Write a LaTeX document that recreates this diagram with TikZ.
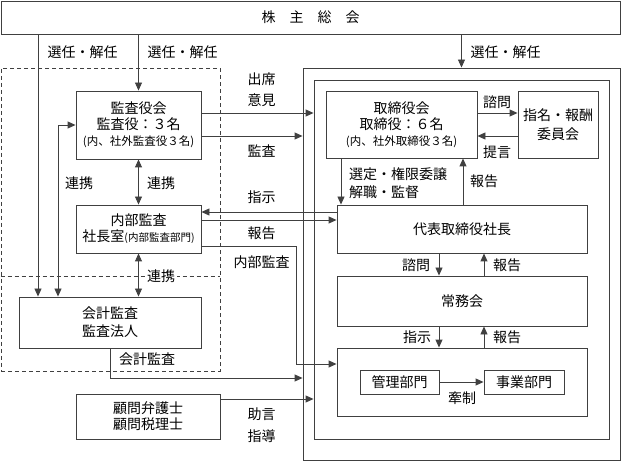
\documentclass[tikz,border=0pt]{standalone}
\usepackage{fontspec}
\setmainfont{Noto Sans CJK JP}
\usetikzlibrary{arrows.meta,calc}
\begin{document}
\begin{tikzpicture}[x=1pt,y=-1pt,
  ln/.style={draw=black!75, line width=0.9pt},
  box/.style={ln, rectangle, inner sep=0pt, align=center, font=\fontsize{14}{16}\selectfont},
  dbox/.style={draw=black!75, line width=0.9pt, dash pattern=on 4pt off 3pt, rectangle, inner sep=0pt},
  arr/.style={draw=black!75, line width=0.9pt, -{Triangle[length=8pt,width=7pt]}},
  darr/.style={draw=black!75, line width=0.9pt, {Triangle[length=8pt,width=7pt]}-{Triangle[length=8pt,width=7pt]}},
  lbl/.style={inner sep=0pt, align=center, font=\fontsize{14}{16}\selectfont},
  small/.style={}
]
\useasboundingbox (0,0) rectangle (621,462);
% helper coordinates
\coordinate (v38) at (38,0);
\coordinate (v58) at (58,0);
\coordinate (v110) at (110,0);
\coordinate (v341) at (341,0);
\coordinate (v463) at (463,0);
\coordinate (v439) at (439,0);
\coordinate (v484) at (484,0);
\coordinate (h113) at (0,113);
\coordinate (h136) at (0,136);
\coordinate (h212) at (0,212);
\coordinate (h220) at (0,220);
\coordinate (h246) at (0,246);
\coordinate (h276) at (0,276);
\coordinate (h364) at (0,364);
\coordinate (h378) at (0,378);
\coordinate (h399) at (0,399);
\coordinate (k1) at (296,364);

% boxes
\node[box, minimum width=619, minimum height=33] (soukai) at (310.5,17.5) {株　主　総　会};
\node[box, minimum width=317, minimum height=392] (outer) at (461.5,264) {};
\node[box, minimum width=295, minimum height=359] (inner) at (461.5,259.5) {};
\node[dbox, minimum width=219, minimum height=303] (dash) at (110.5,219.5) {};
\node[box, minimum width=125, minimum height=68] (kansa) at (138.5,125)
  {監査役会\\監査役：３名\\{\fontsize{11.5}{13}\selectfont (内、社外監査役３名)}};
\node[box, minimum width=125, minimum height=48] (naibu) at (138.5,229)
  {内部監査\\社長室{\fontsize{10.5}{12}\selectfont (内部監査部門)}};
\node[box, minimum width=182, minimum height=51] (kaikei) at (110,322.5)
  {会計監査\\[2pt]監査法人};
\node[box, minimum width=144, minimum height=45] (komon) at (148,416.5)
  {顧問弁護士\\顧問税理士};
\node[box, minimum width=151, minimum height=67] (tori) at (401.5,124.5)
  {取締役会\\取締役：６名\\{\fontsize{11.5}{13}\selectfont (内、社外取締役３名)}};
\node[box, minimum width=80, minimum height=67] (shimei) at (558,124.5)
  {指名・報酬\\[3pt]委員会};
\node[box, minimum width=250, minimum height=48] (daihyo) at (462,229) {代表取締役社長};
\node[box, minimum width=250, minimum height=50] (jomu) at (462,301) {常務会};
\node[box, minimum width=250, minimum height=68] (bumon) at (462,382) {};
\node[box, minimum width=79, minimum height=24] (kanri) at (399.5,382) {管理部門};
\node[box, minimum width=80, minimum height=24] (jigyo) at (524,382) {事業部門};

% dashed separator
\draw[dbox] (dash.west |- h276) -- (dash.east |- h276);

% connectors
\draw[arr] (soukai.south -| v38) -- (kaikei.north -| v38);
\draw[arr] (soukai.south -| kansa.north) -- (kansa.north);
\draw[arr] (soukai.south -| outer.north) -- (outer.north);
\draw[darr] (kaikei.north -| v58) |- (kansa.west);
\draw[darr] (kansa.south) -- (naibu.north);
\draw[darr] (naibu.south) -- (naibu.south |- kaikei.north);
\draw[arr] (kansa.east |- h113) -- (inner.west |- h113);
\draw[arr] (kansa.east |- h136) -- (outer.west |- h136);
\draw[arr] (tori.east |- h113) -- (shimei.west |- h113);
\draw[arr] (shimei.west |- h136) -- (tori.east |- h136);
\draw[arr] (tori.south -| v341) -- (daihyo.north -| v341);
\draw[arr] (daihyo.north -| v463) -- (tori.south -| v463);
\draw[arr] (daihyo.west |- h212) -- (naibu.east |- h212);
\draw[arr] (naibu.east |- h220) -- (daihyo.west |- h220);
\draw[arr] (naibu.east |- h246) -| (k1) -- (bumon.west |- h364);
\draw[arr] (kaikei.south -| v110) |- (outer.west |- h378);
\draw[arr] (komon.east |- h399) -- (inner.west |- h399);
\draw[arr] (daihyo.south -| v439) -- (jomu.north -| v439);
\draw[arr] (jomu.north -| v484) -- (daihyo.south -| v484);
\draw[arr] (jomu.south -| v439) -- (bumon.north -| v439);
\draw[arr] (bumon.north -| v484) -- (jomu.south -| v484);
\draw[arr] (kanri.east) -- (jigyo.west);

% labels
\node[lbl] (t1) at (82.5,52) {選任・解任};
\node[lbl] (t2) at (182.5,52) {選任・解任};
\node[lbl] (t3) at (505.5,52) {選任・解任};
\node[lbl] (t4) at (79,183) {連携};
\node[lbl] (t5) at (161,183) {連携};
\node[lbl, fill=white, inner xsep=2pt, inner ysep=1pt] (t6) at (161,276) {連携};
\node[lbl] (t7) at (261.5,79) {出席};
\node[lbl] (t8) at (261.5,100) {意見};
\node[lbl] (t9) at (261.5,151) {監査};
\node[lbl] (t10) at (261.5,197) {指示};
\node[lbl] (t11) at (261.5,233) {報告};
\node[lbl] (t12) at (261.5,262) {内部監査};
\node[lbl] (t13) at (147,359) {会計監査};
\node[lbl] (t14) at (261.5,414) {助言};
\node[lbl] (t15) at (261.5,436) {指導};
\node[lbl] (t16) at (497,102) {諮問};
\node[lbl] (t17) at (497,152) {提言};
\node[lbl, anchor=west, align=left] (t18) at (349,183) {選定・権限委譲\\[2pt]解職・監督};
\node[lbl] (t19) at (484,181) {報告};
\node[lbl] (t20) at (416,265) {諮問};
\node[lbl] (t21) at (507,265) {報告};
\node[lbl] (t22) at (417,337) {指示};
\node[lbl] (t23) at (507,337) {報告};
\node[lbl] (t24) at (462,398) {牽制};
\end{tikzpicture}
\end{document}
